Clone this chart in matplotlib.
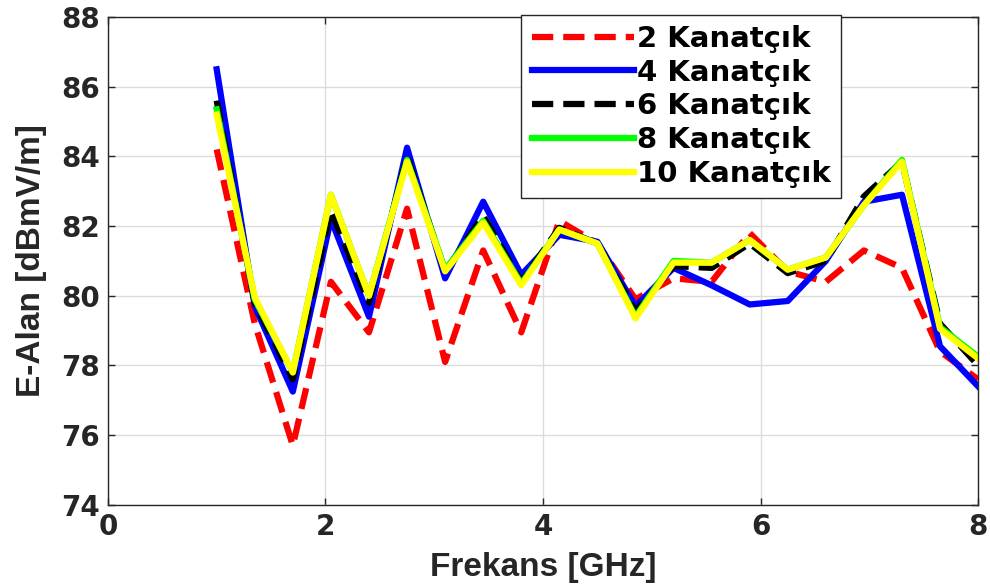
import numpy as np
import matplotlib.pyplot as plt

# Frequency points [GHz]
freq = [1.00, 1.35, 1.70, 2.05, 2.40, 2.75, 3.10, 3.45, 3.80, 4.15, 4.50,
        4.85, 5.20, 5.55, 5.90, 6.25, 6.60, 6.95, 7.30, 7.65, 8.00]

# E-field [dBmV/m] per fin count
k2 = [84.2, 79.2, 75.7, 80.4, 78.95, 82.5, 78.1, 81.3, 78.95, 82.15, 81.5,
      79.9, 80.5, 80.4, 81.8, 80.7, 80.4, 81.3, 80.8, 78.4, 77.6]
k4 = [86.5, 79.7, 77.25, 82.2, 79.4, 84.25, 80.5, 82.7, 80.6, 81.75, 81.55,
      79.7, 80.8, 80.3, 79.75, 79.85, 81.0, 82.7, 82.9, 78.55, 77.4]
k6 = [85.6, 79.8, 77.6, 82.45, 79.8, 84.0, 80.7, 82.3, 80.4, 81.95, 81.5,
      79.55, 80.85, 80.8, 81.5, 80.65, 81.0, 82.85, 83.85, 79.2, 78.0]
k8 = [85.35, 79.9, 77.8, 82.9, 80.0, 83.9, 80.75, 82.15, 80.35, 81.9, 81.5,
      79.4, 81.0, 80.95, 81.6, 80.75, 81.1, 82.6, 83.9, 79.1, 78.25]
k10 = [85.2, 79.95, 77.8, 82.9, 80.0, 83.85, 80.7, 82.1, 80.3, 81.9, 81.5,
       79.35, 80.95, 80.95, 81.6, 80.75, 81.1, 82.6, 83.85, 79.05, 78.2]

labels = ['2 Kanatçık', '4 Kanatçık', '6 Kanatçık', '8 Kanatçık', '10 Kanatçık']
x_ticks = [0, 2, 4, 6, 8]
y_ticks = [74, 76, 78, 80, 82, 84, 86, 88]

plt.rcParams['font.family'] = ['DejaVu Sans']

fig = plt.figure(figsize=(9.9, 5.87), dpi=100)
ax = fig.add_axes([0.109, 0.140, 0.879, 0.831])

ax.plot(freq, k2, color='red', linestyle=(0, (3.4, 1.6)), linewidth=4.5, label=labels[0])
ax.plot(freq, k4, color='blue', linewidth=4.5, label=labels[1])
ax.plot(freq, k6, color='black', linestyle=(0, (3.4, 1.6)), linewidth=4.5, label=labels[2])
ax.plot(freq, k8, color='#00ff00', linewidth=4.5, label=labels[3])
ax.plot(freq, k10, color='yellow', linewidth=4.5, label=labels[4])

ax.set_xlim(0, 8)
ax.set_ylim(74, 88)
ax.set_xticks(x_ticks)
ax.set_yticks(y_ticks)
ax.tick_params(direction='in', top=True, right=True, length=5, width=1,
               labelsize=20, colors='#262626', pad=6)
for lab in ax.get_xticklabels() + ax.get_yticklabels():
    lab.set_fontweight('bold')
    lab.set_color('#262626')
for s in ax.spines.values():
    s.set_color('#262626')
    s.set_linewidth(1)
ax.grid(True, color='#dcdcdc', linewidth=1)
ax.set_axisbelow(True)

ax.set_xlabel('Frekans [GHz]', fontsize=24, fontweight='bold',
              family='Liberation Sans', color='#262626', labelpad=8)
ax.set_ylabel('E-Alan [dBmV/m]', fontsize=24, fontweight='bold',
              family='Liberation Sans', color='#262626', labelpad=10)

leg = ax.legend(loc='upper right', bbox_to_anchor=(0.842, 1.005),
                prop={'weight': 'bold', 'size': 21}, frameon=True, fancybox=False,
                handlelength=3.5, handletextpad=0.1, borderpad=0.35, labelspacing=0.2,
                borderaxespad=0)
leg.get_frame().set_edgecolor('#262626')
leg.get_frame().set_linewidth(1)
leg.get_frame().set_alpha(1)

fig.savefig('out.png', dpi=100)
